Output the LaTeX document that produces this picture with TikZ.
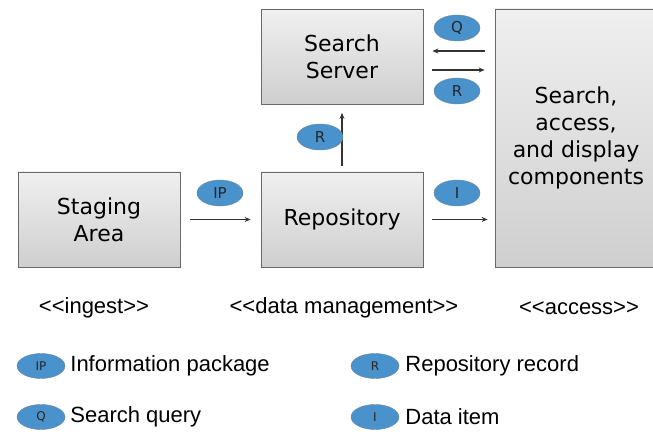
\documentclass[tikz,border=0pt]{standalone}
\usepackage{fontspec}
\setmainfont{Liberation Sans}
\newfontfamily\dejavu{DejaVu Sans}
\usetikzlibrary{positioning}
\usetikzlibrary{arrows.meta,shapes.geometric}
\definecolor{tokenblue}{RGB}{74,146,204}
\definecolor{boxedge}{RGB}{105,105,105}
\newcommand{\stereoopen}{<\kern0pt<}
\newcommand{\stereoclose}{>\kern0pt>}

\begin{document}
\begin{tikzpicture}[x=1pt,y=-1pt,
    compbox/.style={rectangle, draw=boxedge, thick, top color=gray!12, bottom color=gray!38, minimum width=162pt, minimum height=95pt, align=center, font=\dejavu\fontsize{22}{27}\selectfont},
    token/.style={ellipse, draw=gray!70!tokenblue, fill=tokenblue, text=black!85, minimum width=46pt, minimum height=26pt, inner sep=0pt, font=\dejavu\fontsize{15}{15}\selectfont},
    smalltoken/.style={token, minimum width=48pt, minimum height=25pt, font=\dejavu\fontsize{12}{12}\selectfont},
    flow/.style={-{Stealth[length=6pt,width=5pt]}, line width=1.2pt, draw=black!80},
    tagtext/.style={font=\fontsize{22}{25}\selectfont, inner sep=0pt}]
    \useasboundingbox (0,0) rectangle (653,435);
    \clip (0,0) rectangle (653,435);
            % boxes
            \node[compbox]   (staging)      at (99,219.5)   {Staging\\Area};
            \node[compbox]   (repository)   at (342,219.5)  {Repository};
            \node[compbox]   (searchserver) at (342,57)     {Search\\Server};
            \node[compbox, minimum width=162pt, minimum height=258pt] (access) at (576,138) {Search,\\access,\\and display\\components};
            % flows
            \draw[flow, shorten <=10pt, shorten >=10pt] (staging.east) -- (repository.west);
            \draw[flow, shorten <=9pt, shorten >=7pt] (repository.east) -- (access.west |- repository.east);
            \draw[flow, shorten <=6pt, shorten >=8pt] (repository.north) -- (searchserver.south);
            \draw[flow, shorten <=10pt, shorten >=9pt] ([yshift=6pt]searchserver.east -| access.west) -- ([yshift=6pt]searchserver.east);
            \draw[flow, shorten <=9pt, shorten >=10pt] ([yshift=-13pt]searchserver.east) -- ([yshift=-13pt]searchserver.east -| access.west);
            % tokens
            \node[token] (tokenQ)   at (457,28)  {Q};
            \node[token] (tokenRs)  at (457,91)  {R};
            \node[token] (tokenR)   at (320,137) {R};
            \node[token] (tokenIP)  at (220,193) {IP};
            \node[token] (tokenI)   at (457,193) {I};
            % stereotypes
            \node[tagtext] (ingest)  at (94,308)  {\stereoopen ingest\stereoclose};
            \node[tagtext] (datamgmt) at (344,308) {\stereoopen data management\stereoclose};
            \node[tagtext] (accesstag) at (579,308) {\stereoopen access\stereoclose};
            % legend
            \node[smalltoken] (legIP) at (41,366)  {IP};
            \node[smalltoken] (legQ)  at (41,417)  {Q};
            \node[smalltoken] (legR)  at (375,366) {R};
            \node[smalltoken] (legI)  at (375,417) {I};
            \node[tagtext, right=5pt of legIP] (legIPtext) {Information package};
            \node[tagtext, right=5pt of legQ]  (legQtext)  {Search query};
            \node[tagtext, right=6pt of legR]  (legRtext)  {Repository record};
            \node[tagtext, right=6pt of legI]  (legItext)  {Data item};
        \end{tikzpicture}
\end{document}
